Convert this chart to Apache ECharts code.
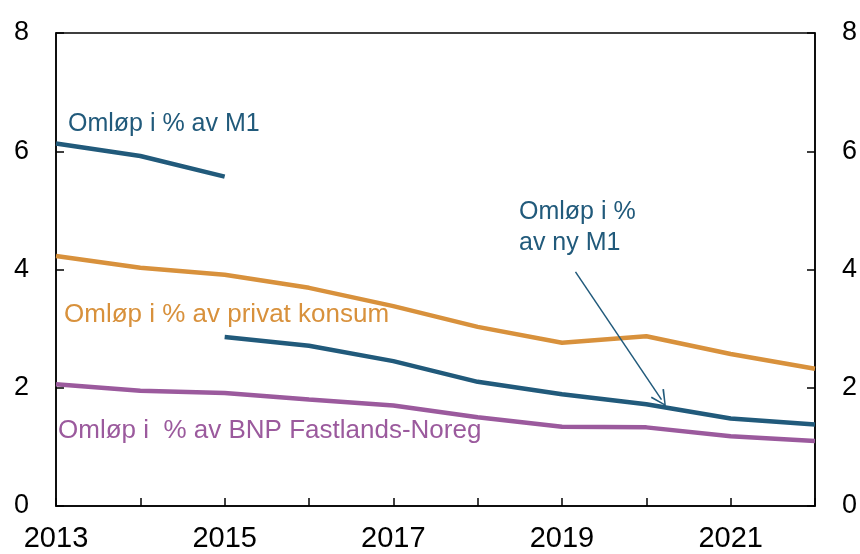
<!DOCTYPE html>
<html><head><meta charset="utf-8">
<script src="https://cdn.jsdelivr.net/npm/echarts@6/dist/echarts.min.js"></script>
<style>html,body{margin:0;padding:0;background:#fff}#c{width:860px;height:554px}</style>
</head><body><div id="c"></div>
<script>
const years = [2013, 2014, 2015, 2016, 2017, 2018, 2019, 2020, 2021, 2022];
const m1OldYears = [2013, 2014, 2015];
const m1Old = [6.13, 5.92, 5.57];
const m1NewYears = [2015, 2016, 2017, 2018, 2019, 2020, 2021, 2022];
const m1New = [2.86, 2.71, 2.45, 2.10, 1.89, 1.72, 1.48, 1.38];
const konsum = [4.23, 4.03, 3.91, 3.69, 3.38, 3.03, 2.76, 2.87, 2.57, 2.32];
const bnp = [2.06, 1.95, 1.91, 1.80, 1.70, 1.50, 1.34, 1.33, 1.18, 1.10];
const yTicks = [0, 2, 4, 6, 8];
const xLabelYears = [2013, 2015, 2017, 2019, 2021];

const FONT = "'Liberation Sans', Arial, sans-serif";
const BLUE = '#215a7b', ORANGE = '#d8913c', PURPLE = '#9b5a9d';
const pair = (xs, ys) => xs.map((x, i) => [x, ys[i]]);

const yAxisBase = (pos) => ({
  type: 'value', position: pos, min: yTicks[0], max: yTicks[yTicks.length - 1], interval: 2,
  axisLine: { show: true, lineStyle: { color: '#000', width: 1.5 } },
  axisTick: { show: true, inside: true, length: 8, lineStyle: { color: '#000', width: 1.5 } },
  axisLabel: { fontSize: 27, color: '#000', fontFamily: FONT, margin: 27 },
  splitLine: { show: false }
});

const chart = echarts.init(document.getElementById('c'), null, { renderer: 'canvas' });
chart.setOption({
  animation: false,
  grid: { left: 56, right: 45, top: 33, bottom: 48, show: true, borderColor: '#000', borderWidth: 1.5, backgroundColor: 'transparent' },
  xAxis: {
    type: 'value', min: years[0], max: years[years.length - 1], interval: 1,
    axisLine: { show: true, onZero: false, lineStyle: { color: '#000', width: 1.5 } },
    axisTick: { show: true, inside: true, length: 8, lineStyle: { color: '#000', width: 1.5 } },
    axisLabel: {
      fontSize: 29, color: '#000', fontFamily: FONT, margin: 18, showMinLabel: true, showMaxLabel: true,
      formatter: v => xLabelYears.includes(v) ? String(v) : ''
    },
    splitLine: { show: false }
  },
  yAxis: [yAxisBase('left'), yAxisBase('right')],
  series: [
    { name: 'konsum', type: 'line', data: pair(years, konsum), symbol: 'none', lineStyle: { color: ORANGE, width: 4.5 } },
    { name: 'bnp', type: 'line', data: pair(years, bnp), symbol: 'none', lineStyle: { color: PURPLE, width: 4.5 } },
    { name: 'm1old', type: 'line', data: pair(m1OldYears, m1Old), symbol: 'none', lineStyle: { color: BLUE, width: 4.5 } },
    { name: 'm1new', type: 'line', data: pair(m1NewYears, m1New), symbol: 'none', lineStyle: { color: BLUE, width: 4.5 },
      markLine: {
        silent: true, animation: false,
        symbol: ['none', 'path://M0,10 L5,0 L10,10 L9,10.5 L5,2 L1,10.5 Z'],
        symbolSize: [16, 16],
        label: { show: false },
        lineStyle: { color: BLUE, width: 1.5, type: 'solid' },
        data: [[{ coord: [2019.16, 3.96] }, { coord: [2020.18, 1.80] }]]
      }
    }
  ],
  graphic: [
    { type: 'text', left: 68, top: 112, style: { text: 'Omløp i % av M1', fill: BLUE, font: '25px ' + FONT } },
    { type: 'text', left: 64, top: 302, style: { text: 'Omløp i % av privat konsum', fill: ORANGE, font: '26px ' + FONT } },
    { type: 'text', left: 58, top: 418, style: { text: 'Omløp i  % av BNP Fastlands-Noreg', fill: PURPLE, font: '26px ' + FONT } },
    { type: 'text', left: 519, top: 197, style: { text: 'Omløp i %\nav ny M1', fill: BLUE, font: '25px ' + FONT, lineHeight: 31 } }
  ]
});
</script></body></html>
